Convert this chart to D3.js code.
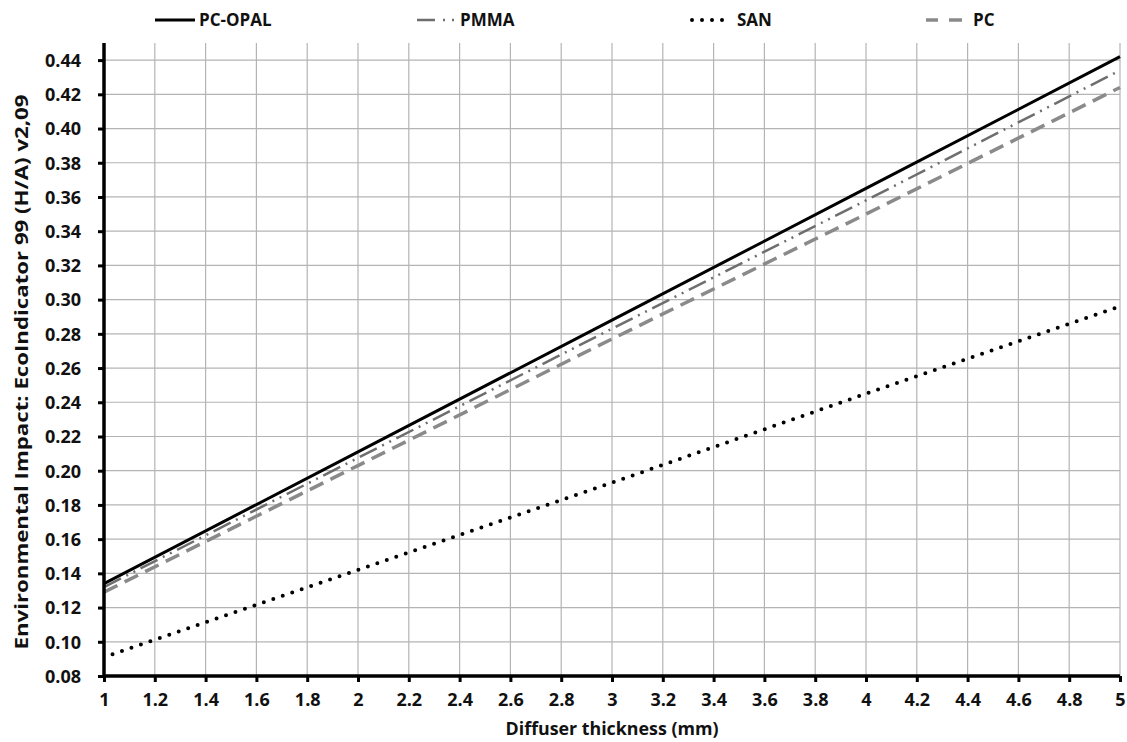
<!DOCTYPE html>
<html><head><meta charset="utf-8">
<script src="https://cdn.jsdelivr.net/npm/d3@7"></script>
<style>
body{margin:0;background:#fff;}
text{font-family:"Open Sans",sans-serif;font-weight:bold;fill:#111;}
</style></head>
<body><svg id="c" width="1127" height="742"></svg>
<script>
const thickness = [1, 2, 3, 4, 5];
const pcOpal = [0.134, 0.211, 0.288, 0.365, 0.442];
const pmma   = [0.132, 0.2075, 0.283, 0.358, 0.434];
const san    = [0.091, 0.142, 0.193, 0.245, 0.296];
const pc     = [0.129, 0.203, 0.277, 0.350, 0.424];
const seriesNames = ["PC-OPAL", "PMMA", "SAN", "PC"];
const xTicks = [1,1.2,1.4,1.6,1.8,2,2.2,2.4,2.6,2.8,3,3.2,3.4,3.6,3.8,4,4.2,4.4,4.6,4.8,5];
const yTicks = [0.08,0.10,0.12,0.14,0.16,0.18,0.20,0.22,0.24,0.26,0.28,0.30,0.32,0.34,0.36,0.38,0.40,0.42,0.44];
const xTitle = "Diffuser thickness (mm)";
const yTitle = "Environmental Impact: EcoIndicator 99 (H/A) v2,09";

const svg = d3.select("#c");
const x = d3.scaleLinear().domain([1,5]).range([104,1120]);
const y = d3.scaleLinear().domain([0.08,0.45]).range([676,43]);

const styles = {
  "PC-OPAL": {color:"#000", w:3, dash:null, cap:"butt"},
  "PMMA": {color:"#6e6e6e", w:2.5, dash:"19,6,2,6,2,6", cap:"butt"},
  "SAN": {color:"#000", w:4, dash:"0,10", cap:"round", offset:-9},
  "PC": {color:"#8a8a8a", w:3.5, dash:"15,8", cap:"butt"}
};
const data = [pcOpal, pmma, san, pc];

// grid
const g = svg.append("g");
g.selectAll(".vg").data(xTicks.slice(1)).join("line")
  .attr("x1",d=>x(d)).attr("x2",d=>x(d)).attr("y1",y(0.45)).attr("y2",y(0.08))
  .attr("stroke","#b4b4b4").attr("stroke-width",1.2);
g.selectAll(".hg").data(yTicks.slice(1)).join("line")
  .attr("x1",x(1)).attr("x2",x(5)).attr("y1",d=>y(d)).attr("y2",d=>y(d))
  .attr("stroke","#b4b4b4").attr("stroke-width",1.2);

// series
const line = d3.line().x((d,i)=>x(thickness[i])).y(d=>y(d));
seriesNames.forEach((n,k)=>{
  const s = styles[n];
  const p = svg.append("path").datum(data[k]).attr("d",line)
    .attr("fill","none").attr("stroke",s.color).attr("stroke-width",s.w)
    .attr("stroke-linecap",s.cap);
  if(s.dash) p.attr("stroke-dasharray",s.dash);
  if(s.offset) p.attr("stroke-dashoffset",s.offset);
});

// axes
const xAxis = d3.axisBottom(x).tickValues(xTicks).tickSize(6).tickPadding(11).tickFormat(d=>String(d));
const yAxis = d3.axisLeft(y).tickValues(yTicks).tickSize(6).tickPadding(17).tickFormat(d3.format(".2f"));
const gx = svg.append("g").attr("transform",`translate(0,${y(0.08)})`).call(xAxis);
const gy = svg.append("g").attr("transform",`translate(${x(1)},0)`).call(yAxis);
[gx,gy].forEach(a=>{
  a.select(".domain").attr("stroke","#000").attr("stroke-width",3.5);
  a.selectAll(".tick line").attr("stroke","#000").attr("stroke-width",3);
  a.selectAll(".tick text").style("font-size","18px").style("font-family","'Open Sans',sans-serif").style("font-weight","bold").attr("fill","#111");
});
gy.select(".domain").attr("d",`M0,${y(0.45)}V${y(0.08)}`);
gx.select(".domain").attr("d",`M${x(1)},0H${x(5)}`);
gy.selectAll(".tick text").attr("dy","0.35em");

// titles
svg.append("text").attr("x",612).attr("y",735).attr("text-anchor","middle")
  .style("font-size","18px").attr("textLength",213).attr("lengthAdjust","spacingAndGlyphs").text(xTitle);
svg.append("text").attr("transform","translate(28,372) rotate(-90)").attr("text-anchor","middle")
  .style("font-size","18px").attr("textLength",555).attr("lengthAdjust","spacingAndGlyphs").text(yTitle);

// legend
const legX = [155, 417, 690, 926];
const legTextX = [199, 460, 737, 973];
const legLen = [40, 37, 34, 36];
const ly = 20;
seriesNames.forEach((n,k)=>{
  const s = styles[n];
  const l = svg.append("line").attr("x1",legX[k]).attr("x2",legX[k]+legLen[k]).attr("y1",ly).attr("y2",ly)
    .attr("stroke",s.color).attr("stroke-width",s.w).attr("stroke-linecap",s.cap);
  if(n==="PMMA") l.attr("stroke-dasharray","18,8,2,7,2,20");
  else if(n==="PC") l.attr("stroke-dasharray","12,11,13,20");
  else if(s.dash) l.attr("stroke-dasharray",s.dash);
  if(n==="SAN") l.attr("x1",legX[k]+2).attr("x2",legX[k]+33);
  svg.append("text").attr("x",legTextX[k]).attr("y",ly).attr("dy","0.36em")
    .style("font-size","17px").text(n);
});
</script></body></html>
